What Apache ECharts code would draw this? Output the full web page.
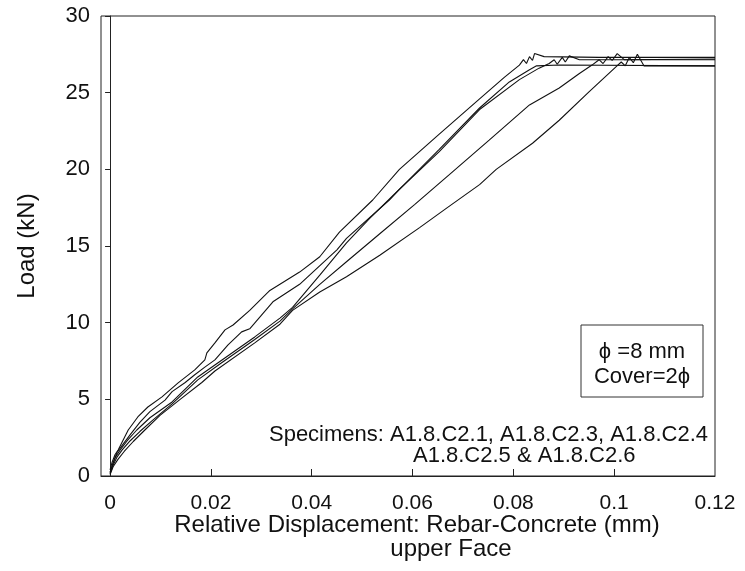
<!DOCTYPE html>
<html>
<head>
<meta charset="utf-8">
<script src="https://cdn.jsdelivr.net/npm/echarts@6/dist/echarts.min.js"></script>
<style>
  html, body { margin: 0; padding: 0; background: #fff; }
  #chart { width: 745px; height: 571px; }
</style>
</head>
<body>
<div id="chart"></div>
<script>
// displacement (mm) / load (kN)
var dispC21 = [0, 0.0004, 0.0010, 0.0016, 0.0026, 0.0036, 0.0055, 0.0075, 0.0103, 0.0135, 0.0168, 0.0188, 0.0192, 0.0208, 0.0228, 0.0244, 0.0277, 0.0317, 0.0376, 0.0416, 0.0455, 0.0521, 0.0574, 0.0653, 0.0733, 0.0782, 0.0812, 0.0820, 0.0826, 0.0832, 0.0838, 0.0842, 0.0861, 0.0970, 0.1200];
var loadC21 = [0.4, 0.9, 1.4, 1.7, 2.35, 3.0, 3.85, 4.5, 5.16, 6.07, 6.92, 7.57, 8.03, 8.68, 9.53, 9.85, 10.8, 12.1, 13.3, 14.3, 15.9, 18.0, 20.0, 22.3, 24.6, 26.0, 26.8, 27.15, 26.9, 27.35, 27.1, 27.55, 27.35, 27.3, 27.3];

var dispC23 = [0, 0.0006, 0.0014, 0.0024, 0.0040, 0.0059, 0.0079, 0.0109, 0.0123, 0.0149, 0.0168, 0.0188, 0.0208, 0.0234, 0.0261, 0.0277, 0.0323, 0.0376, 0.0450, 0.0469, 0.0554, 0.0574, 0.0653, 0.0733, 0.0792, 0.0832, 0.0846, 0.0891, 0.1200];
var loadC23 = [0.25, 0.85, 1.55, 2.0, 2.7, 3.5, 4.2, 4.95, 5.5, 6.1, 6.6, 7.1, 7.57, 8.55, 9.4, 9.6, 11.36, 12.5, 14.75, 15.5, 18.0, 18.7, 21.3, 24.0, 25.7, 26.5, 26.75, 26.8, 26.75];

var dispC24 = [0, 0.0004, 0.0010, 0.0020, 0.0034, 0.0053, 0.0079, 0.0123, 0.0174, 0.0222, 0.0287, 0.0337, 0.0362, 0.0416, 0.0469, 0.0515, 0.0574, 0.0653, 0.0733, 0.0812, 0.0851, 0.0871, 0.0881, 0.0887, 0.0897, 0.0903, 0.0911, 0.0931, 0.1200];
var loadC24 = [0.2, 0.65, 1.2, 1.7, 2.3, 3.0, 3.8, 4.83, 6.46, 7.57, 9.07, 10.3, 11.0, 13.1, 15.2, 16.8, 18.7, 21.15, 23.9, 25.85, 26.6, 26.9, 27.15, 26.85, 27.3, 27.0, 27.4, 27.15, 27.15];

var dispC25 = [0, 0.0006, 0.0014, 0.0024, 0.0040, 0.0059, 0.0083, 0.0123, 0.0174, 0.0222, 0.0287, 0.0337, 0.0362, 0.0416, 0.0469, 0.0535, 0.0604, 0.0673, 0.0752, 0.0832, 0.0891, 0.0931, 0.0956, 0.0970, 0.0978, 0.0988, 0.0996, 0.1006, 0.1020, 0.1200];
var loadC25 = [0.15, 0.7, 1.25, 1.7, 2.3, 2.9, 3.6, 4.7, 6.27, 7.4, 8.9, 10.1, 10.9, 12.5, 13.97, 15.8, 17.7, 19.65, 21.9, 24.2, 25.3, 26.25, 26.8, 27.15, 26.9, 27.35, 27.1, 27.55, 27.15, 27.2];

var dispC26 = [0, 0.0006, 0.0016, 0.0028, 0.0046, 0.0069, 0.0099, 0.0139, 0.0182, 0.0208, 0.0287, 0.0337, 0.0362, 0.0416, 0.0469, 0.0535, 0.0614, 0.0669, 0.0733, 0.0766, 0.0838, 0.0891, 0.0950, 0.1004, 0.1014, 0.1022, 0.1030, 0.1038, 0.1046, 0.1059, 0.1200];
var loadC26 = [0.1, 0.6, 1.1, 1.6, 2.25, 3.0, 3.95, 5.0, 6.1, 6.85, 8.68, 9.9, 10.8, 12.0, 13.0, 14.4, 16.2, 17.5, 19.0, 20.0, 21.7, 23.2, 25.05, 26.7, 27.0, 26.75, 27.3, 26.95, 27.5, 26.75, 26.75];

var specimenNames = ['A1.8.C2.1', 'A1.8.C2.3', 'A1.8.C2.4', 'A1.8.C2.5', 'A1.8.C2.6'];
var xLabelValues = [0, 0.02, 0.04, 0.06, 0.08, 0.1, 0.12];
var xTickValues = [0.02, 0.04, 0.06, 0.08, 0.1];

var font = '"Liberation Sans", Arial, "DejaVu Sans", sans-serif';

function zip(xs, ys) {
  return xs.map(function (x, i) { return [x, ys[i]]; });
}

var curves = [
  zip(dispC21, loadC21),
  zip(dispC23, loadC23),
  zip(dispC24, loadC24),
  zip(dispC25, loadC25),
  zip(dispC26, loadC26)
];

var myChart = echarts.init(document.getElementById('chart'));

var option = {
  animation: false,
  backgroundColor: '#fff',
  grid: {
    left: 101,
    top: 16,
    right: 30,
    bottom: 95,
    show: true,
    borderColor: '#222',
    borderWidth: 1,
    backgroundColor: 'transparent'
  },
  xAxis: {
    type: 'value',
    min: -0.0018,
    max: 0.12,
    axisLine: { show: true, onZero: false, lineStyle: { color: '#222', width: 1 } },
    axisTick: {
      show: true,
      inside: true,
      length: 7,
      customValues: xTickValues,
      lineStyle: { color: '#222' }
    },
    axisLabel: {
      customValues: xLabelValues,
      margin: 17,
      color: '#111',
      fontSize: 21,
      fontFamily: font,
      formatter: function (v) { return String(+v.toFixed(2)); }
    },
    splitLine: { show: false }
  },
  yAxis: {
    type: 'value',
    min: 0,
    max: 30,
    interval: 5,
    axisLine: { show: true, lineStyle: { color: '#222', width: 1 } },
    axisTick: { show: true, inside: false, length: 5, lineStyle: { color: '#222' } },
    axisLabel: { margin: 11, color: '#111', fontSize: 22, fontFamily: font },
    splitLine: { show: false },
    name: 'Load (kN)',
    nameLocation: 'middle',
    nameGap: 62,
    nameTextStyle: { color: '#111', fontSize: 24, fontFamily: font }
  },
  graphic: [
    {
      type: 'text',
      x: 417,
      y: 525,
      style: {
        text: 'Relative Displacement: Rebar-Concrete (mm)', font: '24px ' + font, fill: '#111',
        align: 'center', verticalAlign: 'middle'
      }
    },
    {
      type: 'text',
      x: 451,
      y: 549,
      style: {
        text: 'upper Face', font: '24px ' + font, fill: '#111',
        align: 'center', verticalAlign: 'middle'
      }
    },
    {
      type: 'rect',
      shape: { x: 581, y: 325, width: 122, height: 72 },
      style: { fill: '#fff', stroke: '#333', lineWidth: 1 }
    },
    {
      type: 'text',
      x: 642,
      y: 352,
      style: { text: 'ϕ =8 mm', font: '22px ' + font, fill: '#111', align: 'center', verticalAlign: 'middle' }
    },
    {
      type: 'text',
      x: 642,
      y: 377,
      style: { text: 'Cover=2ϕ', font: '22px ' + font, fill: '#111', align: 'center', verticalAlign: 'middle' }
    },
    {
      type: 'text',
      x: 708,
      y: 435,
      style: {
        text: 'Specimens: ' + specimenNames.slice(0, 3).join(', '),
        font: '22px ' + font, fill: '#111', align: 'right', verticalAlign: 'middle'
      }
    },
    {
      type: 'text',
      x: 413,
      y: 456,
      style: {
        text: specimenNames[3] + ' & ' + specimenNames[4],
        font: '22px ' + font, fill: '#111', align: 'left', verticalAlign: 'middle'
      }
    }
  ],
  series: curves.map(function (d, i) {
    return {
      name: specimenNames[i],
      type: 'line',
      data: d,
      showSymbol: false,
      symbol: 'none',
      smooth: false,
      lineStyle: { color: '#111', width: 1.1 },
      z: 3
    };
  })
};

myChart.setOption(option);
</script>
</body>
</html>
